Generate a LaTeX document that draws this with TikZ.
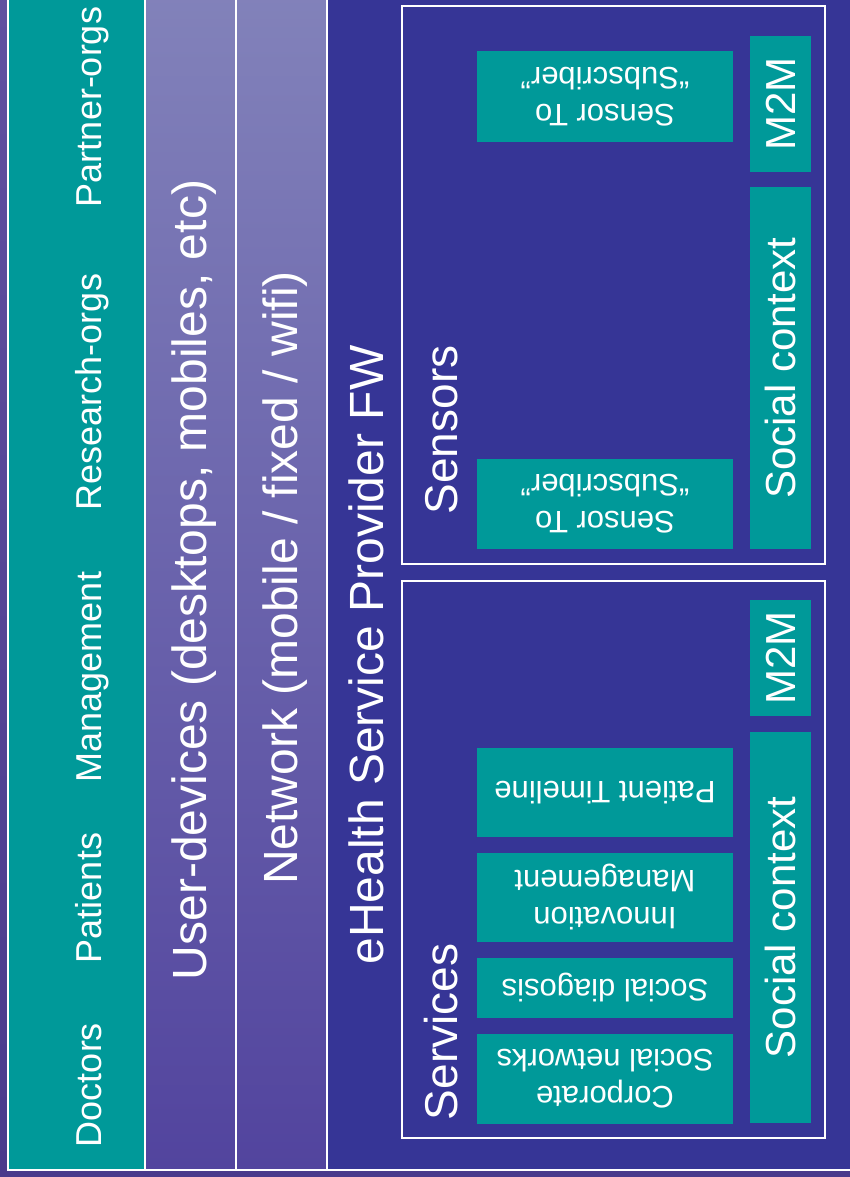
\documentclass[tikz,border=0pt]{standalone}
\usepackage{fontspec}
\setmainfont{Liberation Sans}
\usetikzlibrary{positioning}

\definecolor{ehteal}{RGB}{0,153,153}
\definecolor{ehblue}{RGB}{54,53,150}
\definecolor{ehlilatop}{RGB}{130,130,186}
\definecolor{ehlilabot}{RGB}{82,68,158}
\definecolor{ehbacktop}{RGB}{96,80,160}
\definecolor{ehbackbot}{RGB}{74,58,140}

\begin{document}
\begin{tikzpicture}[x=1pt,y=-1pt,
    frame/.style={draw=white,line width=1.6pt},
    lbl/.style={text=white,rotate=90,anchor=base,inner sep=0pt,font=\fontsize{48}{52}\selectfont},
    tealbox/.style={fill=ehteal,text=white,inner sep=0pt},
    sidebox/.style={tealbox,rotate=90,minimum height=61pt,font=\fontsize{42}{46}\selectfont},
    smallbox/.style={tealbox,rotate=180,align=center,minimum width=256pt,font=\fontsize{31}{37}\selectfont}]
    \useasboundingbox (0,0) rectangle (850,1177);
    \shade[top color=ehbacktop,bottom color=ehbackbot] (0,0) rectangle (850,1177);

    % layers
    \draw[frame,fill=ehblue] (8,-10) rectangle (870,1170);
    \draw[frame,fill=ehteal] (8,-10) rectangle (145,1170);
    \shadedraw[frame,top color=ehlilatop,bottom color=ehlilabot] (145,-10) rectangle (236,1170);
    \shadedraw[frame,top color=ehlilatop,bottom color=ehlilabot] (236,-10) rectangle (327,1170);

    \foreach \nm/\who/\at in {doc/Doctors/1085, pat/Patients/898, mgt/Management/677,
                              res/Research-orgs/392, par/Partner-orgs/107}
        \node[lbl,font=\fontsize{36}{40}\selectfont] (\nm) at (101,\at) {\who};

    \node[lbl] (devices) at (206,580) {User-devices (desktops, mobiles, etc)};
    \node[lbl] (network) at (297,578) {Network (mobile / fixed / wifi)};
    \node[lbl] (fw) at (383,655) {eHealth Service Provider FW};

    % sensors
    \node[frame,minimum width=423pt,minimum height=558pt] (sensorsbox) at (613.5,285) {};
    \node[lbl,font=\fontsize{46}{50}\selectfont] (sensors) at (457,430) {Sensors};
    \node[sidebox,minimum width=136pt] (m2ms) at (780.5,104) {M2M};
    \node[sidebox,minimum width=362pt] (socials) at (780.5,368) {Social context};
    \node[smallbox,minimum height=91pt] (sensora) at (605,96.5) {Sensor To\\“Subscriber”};
    \node[smallbox,minimum height=90pt] (sensorb) at (605,504) {Sensor To\\“Subscriber”};

    % services
    \node[frame,minimum width=423pt,minimum height=557pt] (servicesbox) at (613.5,859.5) {};
    \node[lbl,font=\fontsize{46}{50}\selectfont] (services) at (457,1032) {Services};
    \node[sidebox,minimum width=116pt] (m2mv) at (780.5,658) {M2M};
    \node[sidebox,minimum width=391pt] (socialv) at (780.5,927.5) {Social context};
    \node[smallbox,minimum height=89pt] (timeline) at (605,792.5) {Patient Timeline};
    \node[smallbox,minimum height=89pt] (innovation) at (605,897.5) {Innovation\\Management};
    \node[smallbox,minimum height=60pt] (diagnosis) at (605,988) {Social diagosis};
    \node[smallbox,minimum height=90pt] (corporate) at (605,1079) {Corporate\\Social networks};
\end{tikzpicture}
\end{document}
